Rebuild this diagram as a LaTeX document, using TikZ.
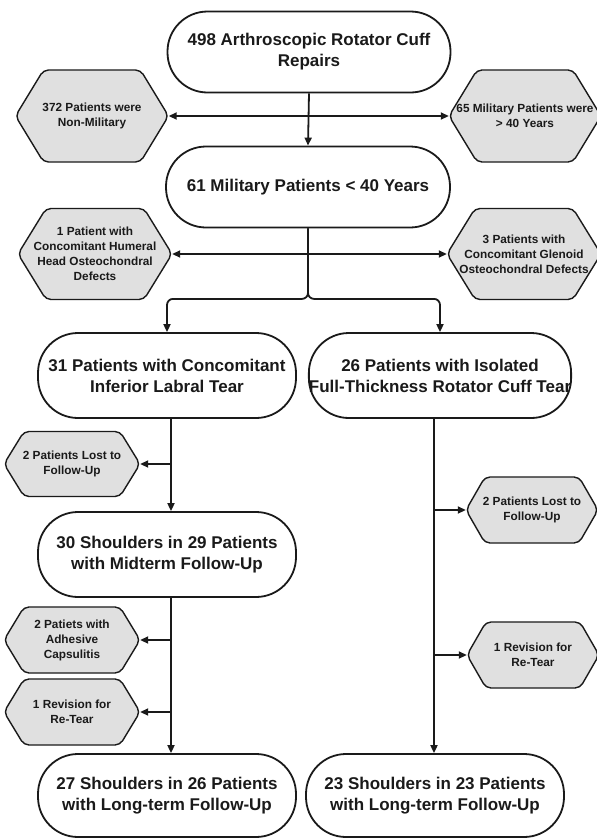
\documentclass[tikz,border=0pt]{standalone}
\usepackage{fontspec}
\setmainfont{Liberation Sans}
\usetikzlibrary{arrows.meta}
\definecolor{hexfill}{HTML}{E0E0E0}
\definecolor{ink}{HTML}{1A1A1A}
\tikzset{
  stad/.style={draw=ink, line width=1.8pt, rounded corners=40pt, align=center,
    font=\fontsize{17}{21}\selectfont\bfseries, text=ink, inner sep=0pt},
  hexlabel/.style={align=center, font=\fontsize{11.8}{15}\selectfont\bfseries, text=ink, inner sep=0pt},
  hexshape/.style={draw=ink, fill=hexfill, line width=1.4pt, rounded corners=5pt},
  arr/.style={draw=ink, line width=1.8pt, -{Triangle[length=8pt,width=7pt]}},
  arrs/.style={draw=ink, line width=1.8pt, {Triangle[length=8pt,width=7pt]}-{Triangle[length=8pt,width=7pt]}},
}
\newcommand\hexnode[7]{%
  \pgfmathsetmacro\hxl{#2-#4/2}\pgfmathsetmacro\hxr{#2+#4/2}%
  \pgfmathsetmacro\hxil{#2-#4/2+#6}\pgfmathsetmacro\hxir{#2+#4/2-#6}%
  \pgfmathsetmacro\hxt{#3-#5/2}\pgfmathsetmacro\hxb{#3+#5/2}%
  \path[hexshape] (#2,\hxt) -- (\hxir,\hxt) -- (\hxr,#3) -- (\hxir,\hxb) -- (\hxil,\hxb) -- (\hxl,#3) -- (\hxil,\hxt) -- cycle;
  \node[hexlabel, minimum width=#4pt, minimum height=#5pt] (#1) at (#2,#3) {#7};
}
\begin{document}
\begin{tikzpicture}[x=1pt,y=-1pt]
\useasboundingbox (0,0) rectangle (597,839);
\fill[white] (0,0) rectangle (597,839);

% main boxes
\node[stad, minimum width=283pt, minimum height=81pt] (A) at (309,52) {498 Arthroscopic Rotator Cuff\\Repairs};
\node[stad, minimum width=284pt, minimum height=81pt] (B) at (308,187) {61 Military Patients < 40 Years};
\node[stad, minimum width=258pt, minimum height=85pt] (C) at (167,375.5) {31 Patients with Concomitant\\Inferior Labral Tear};
\node[stad, minimum width=260pt, minimum height=85pt] (D) at (440,375.5) {26 Patients with Isolated\\Full-Thickness Rotator Cuff Tear};
\node[stad, minimum width=258pt, minimum height=85pt] (E) at (167,554.5) {30 Shoulders in 29 Patients\\with Midterm Follow-Up};
\node[stad, minimum width=258pt, minimum height=83pt] (F) at (167,795.5) {27 Shoulders in 26 Patients\\with Long-term Follow-Up};
\node[stad, minimum width=258pt, minimum height=83pt] (G) at (435,795.5) {23 Shoulders in 23 Patients\\with Long-term Follow-Up};

% side hexagons
\hexnode{L1}{92}{116}{153}{92}{28}{372 Patients were\\Non-Military}
\hexnode{R1}{525}{116}{152}{92}{28}{65 Military Patients were\\> 40 Years}
\hexnode{L2}{95}{254}{154}{91}{28}{1 Patient with\\Concomitant Humeral\\Head Osteochondral\\Defects}
\hexnode{R2}{524}{254}{154}{91}{28}{3 Patients with\\Concomitant Glenoid\\Osteochondral Defects}
\hexnode{L3}{72}{464}{136}{65}{20}{2 Patients Lost to\\Follow-Up}
\hexnode{L4}{72}{640}{136}{66}{20}{2 Patiets with\\Adhesive\\Capsulitis}
\hexnode{L5}{72}{712}{136}{66}{20}{1 Revision for\\Re-Tear}
\hexnode{R3}{532}{510}{132}{66}{19}{2 Patients Lost to\\Follow-Up}
\hexnode{R4}{533}{655}{132}{66}{19}{1 Revision for\\Re-Tear}

\coordinate (colL) at (171,0);
\coordinate (colR) at (434,0);

% connectors
\draw[arrs] (L1.east) -- (R1.west);
\draw[arr] (A.south) -- (B.north);
\draw[arrs] (L2.east) -- (R2.west);
\draw[arr, rounded corners=6pt] (B.south) -- ++(0,70.5) -| (C.north);
\draw[arr, rounded corners=6pt] (B.south) -- ++(0,70.5) -| (D.north);

\draw[arr] (C.south -| colL) -- (E.north -| colL);
\draw[arr] (colL |- L3.east) -- (L3.east);
\draw[arr] (E.south -| colL) -- (F.north -| colL);
\draw[arr] (colL |- L4.east) -- (L4.east);
\draw[arr] (colL |- L5.east) -- (L5.east);

\draw[arr] (D.south -| colR) -- (G.north -| colR);
\draw[arr] (colR |- R3.west) -- (R3.west);
\draw[arr] (colR |- R4.west) -- (R4.west);
\end{tikzpicture}
\end{document}
